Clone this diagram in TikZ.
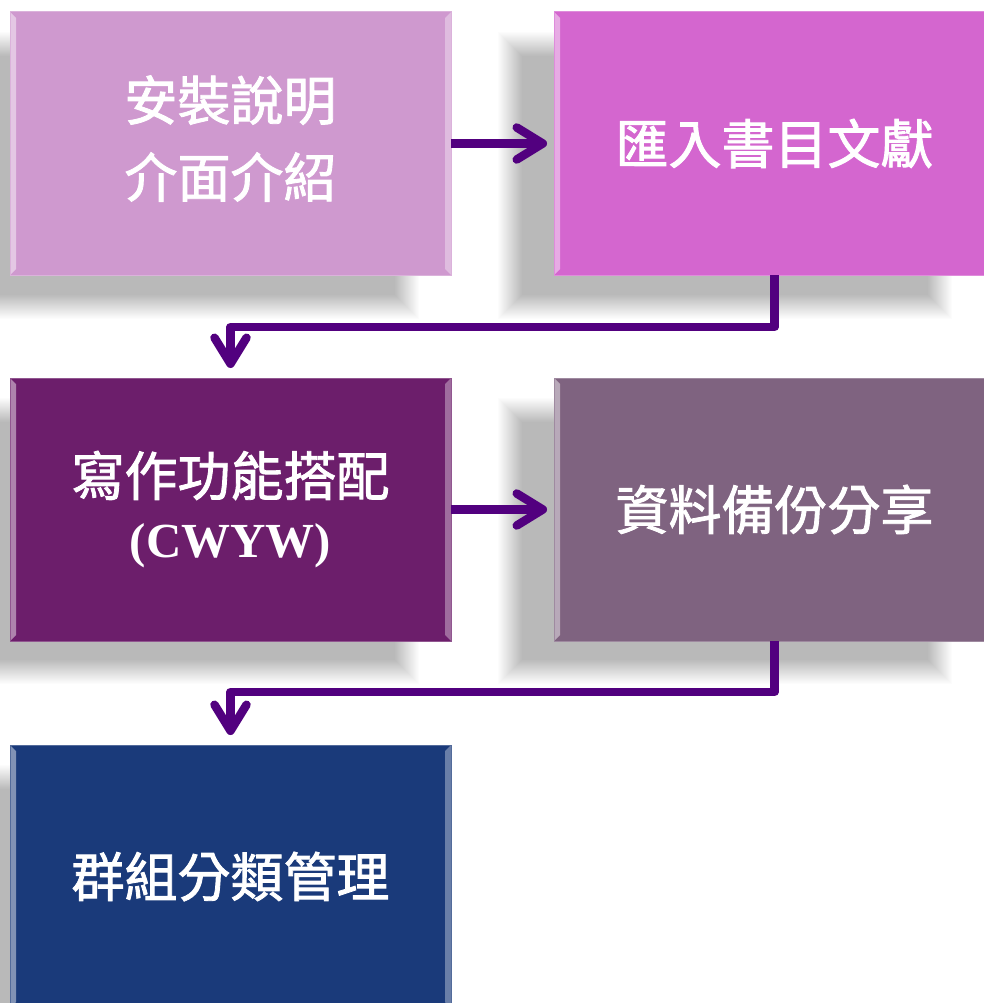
\documentclass[tikz,border=0pt]{standalone}
\usepackage{fontspec}
\newfontfamily\cjk[FakeBold=1.6]{Noto Sans CJK TC}
\newfontfamily\tnr{Liberation Serif}
\usetikzlibrary{arrows.meta,calc}
\definecolor{cA}{HTML}{CF99CF}
\definecolor{cB}{HTML}{D466CF}
\definecolor{cC}{HTML}{6C1E6B}
\definecolor{cD}{HTML}{7F6380}
\definecolor{cE}{HTML}{1A3A7A}
\definecolor{arrowc}{HTML}{52007F}
\definecolor{shadowgray}{HTML}{B9B9B9}
\newcommand\softshadow[4]{%
  \foreach \k in {0,...,24}{%
    \pgfmathsetmacro\inf{12-\k}%
    \pgfmathsetmacro\pc{100*(\k+1)/25}%
    \fill[shadowgray!\pc!white] (#1-\inf,#2-\inf) rectangle (#3+\inf,#4+\inf);
  }%
}
\tikzset{
  flowbox/.style={minimum width=441pt, minimum height=263pt, inner sep=0pt, outer sep=0pt,
    text=white, fill=#1, draw=#1!75!white, line width=1pt, anchor=north west,
    font=\cjk\fontsize{53}{77}\selectfont, align=center,
    path picture={
      \fill[white, opacity=.45] (path picture bounding box.north west) -- ++(6,6)
        -- ($(path picture bounding box.south west)+(6,-6)$) -- (path picture bounding box.south west) -- cycle;
      \fill[white, opacity=.35] (path picture bounding box.north east) -- ++(-6,6)
        -- ($(path picture bounding box.south east)+(-6,-6)$) -- (path picture bounding box.south east) -- cycle;
    }},
  boxtext/.style={text=white, inner sep=0pt, align=center, font=\cjk\fontsize{53}{77}\selectfont},
  conn/.style={draw=arrowc, line width=8.5pt, line cap=butt, line join=round,
    -{Straight Barb[length=26pt,width=32pt,round]}}
}
\begin{document}
\begin{tikzpicture}[x=1pt,y=-1pt]
\fill[white] (0,0) rectangle (984,1003);
\useasboundingbox (0,0) rectangle (984,1003);
% shadows
\softshadow{-34}{44}{407}{307}
\softshadow{510}{44}{940}{307}
\softshadow{-34}{410}{407}{672}
\softshadow{510}{410}{940}{672}
\softshadow{-34}{777}{407}{1040}
% boxes
\node[flowbox=cA] (b1) at (10,12) {};
\node[boxtext] (t1) at ($(b1.center)+(0,-5)$) {安裝說明\\介面介紹};
\node[flowbox=cB] (b2) at (554,12) {匯入書目文獻};
\node[flowbox=cC, font=\cjk\fontsize{53}{62}\selectfont] (b3) at (10,378) {寫作功能搭配\\{\tnr\bfseries\fontsize{49}{50}\selectfont (CWYW)}};
\node[flowbox=cD] (b4) at (554,378) {資料備份分享};
\node[flowbox=cE] (b5) at (10,745) {群組分類管理};
% connectors
\coordinate (j1) at (774.5,327);
\coordinate (j2) at (774.5,692);
\draw[conn, shorten >=7pt] (b1.east) -- (b2.west);
\draw[conn, shorten >=7pt] (b3.east) -- (b4.west);
\draw[conn, shorten >=10pt] (b2.south) -- (j1) -| (b3.north);
\draw[conn, shorten >=10pt] (b4.south) -- (j2) -| (b5.north);
\end{tikzpicture}
\end{document}
